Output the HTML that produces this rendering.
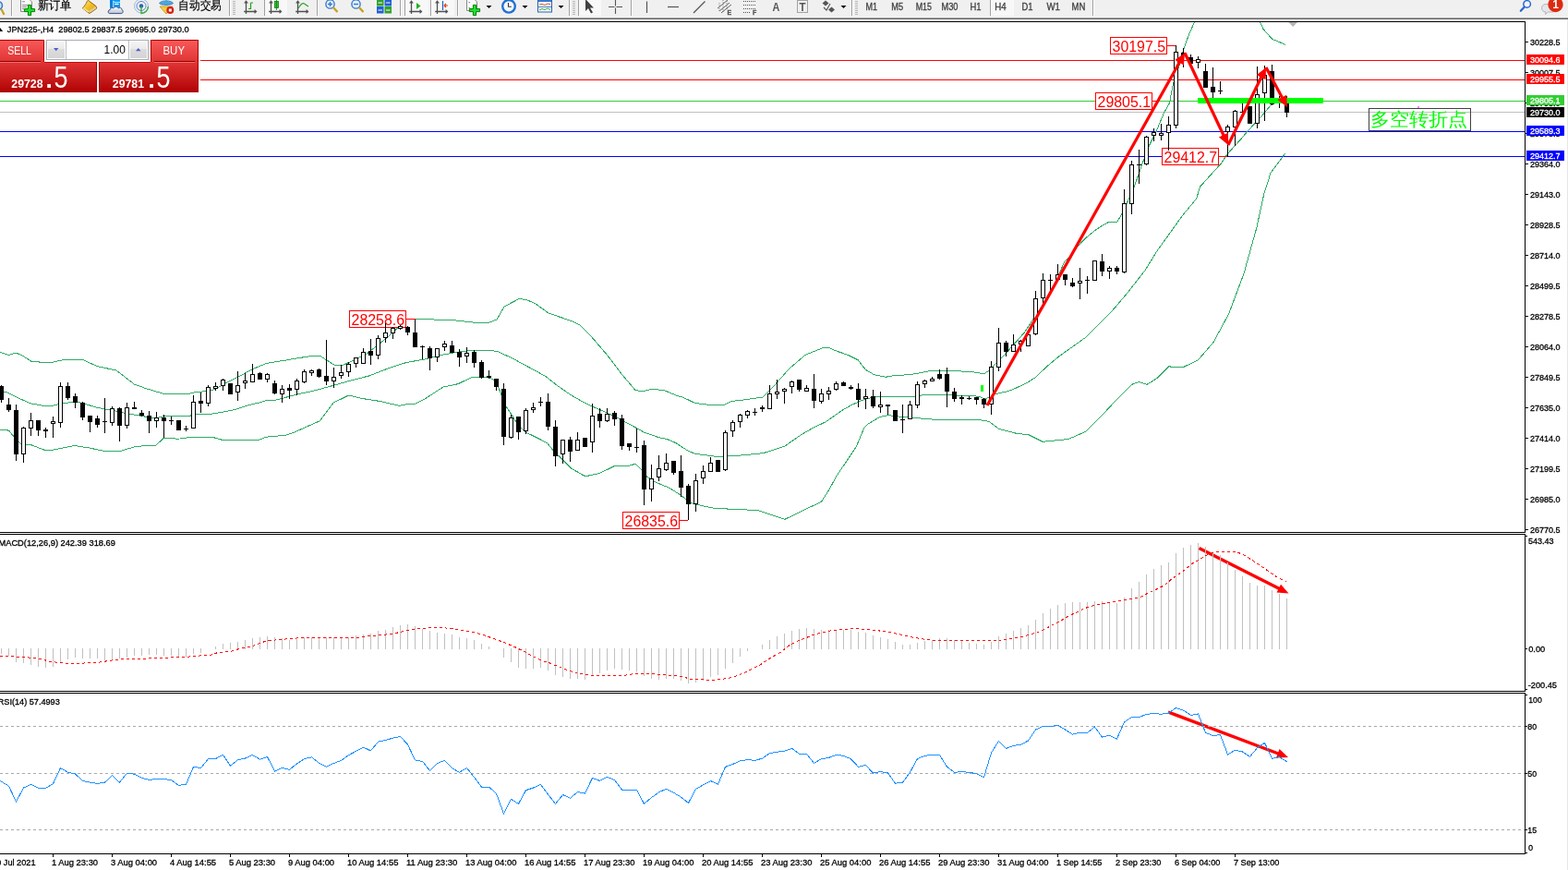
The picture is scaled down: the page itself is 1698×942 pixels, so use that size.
<!DOCTYPE html><html><head><meta charset="utf-8"><title>MT4 JPN225 H4</title><style>html,body{margin:0;padding:0;width:1698px;height:942px;overflow:hidden;background:#fff}svg{position:absolute;left:0;top:0;display:block}text{font-family:"Liberation Sans",Arial,sans-serif}</style></head><body>
<svg width="1698" height="942" viewBox="0 0 1698 942">
<defs><linearGradient id="gSellTop" x1="0" y1="0" x2="0" y2="1"><stop offset="0" stop-color="#f85a5a"/><stop offset="1" stop-color="#e03434"/></linearGradient><linearGradient id="gPrice" x1="0" y1="0" x2="0" y2="1"><stop offset="0" stop-color="#e23636"/><stop offset="1" stop-color="#b00202"/></linearGradient><linearGradient id="gBtn" x1="0" y1="0" x2="0" y2="1"><stop offset="0" stop-color="#f4f4f4"/><stop offset="0.42" stop-color="#ebebeb"/><stop offset="0.45" stop-color="#dcdcdc"/><stop offset="1" stop-color="#d4d4d4"/></linearGradient><linearGradient id="gTbEdge" x1="0" y1="0" x2="0" y2="1"><stop offset="0" stop-color="#d8d8d8"/><stop offset="0.5" stop-color="#a0a0a0"/><stop offset="1" stop-color="#6e6e6e"/></linearGradient></defs>
<rect x="0" y="0" width="1698" height="942" fill="#ffffff"/>
<rect x="0" y="0" width="1698" height="19" fill="#f0f0f0"/>
<rect x="0" y="18" width="1698" height="1" fill="#f5f5f5"/>
<rect x="0" y="19" width="1698" height="1" fill="#a2a2a2"/>
<rect x="0" y="20" width="1698" height="1" fill="#686868"/>
<rect x="1697" y="21" width="1" height="921" fill="#e6e6e6"/>
<g shape-rendering="crispEdges">
<rect x="217" y="65" width="1434" height="1" fill="#ff0000"/>
<rect x="217" y="86" width="1434" height="1" fill="#ff0000"/>
<rect x="0" y="109" width="1651" height="1" fill="#32cd32"/>
<rect x="0" y="121" width="1651" height="1" fill="#c0c0c0"/>
<rect x="0" y="142" width="1651" height="1" fill="#0000ff"/>
<rect x="0" y="169" width="1651" height="1" fill="#0000ff"/>
</g>
<g fill="none" stroke="#2fab66" stroke-width="1" shape-rendering="crispEdges">
<polyline points="0,381.2 9.6,384.5 17.2,382 24.8,385.4 34.4,391.5 44,392.1 57.3,392.1 68.8,389.6 89.8,389.6 105.1,396.5 126.1,401.1 145.3,416 158.6,420.8 177.8,426.5 204,426.5 213,424.2 223,423.9 231.9,421.8 245.3,414.5 257.5,408.4 269.8,401.7 276.5,398.4 288.7,393.4 298.8,391.7 309.9,390 322.2,387.8 335,385.9 346.4,385.2 362,395.2 372,395.2 396.5,383.5 417.7,366.8 430,355.6 440,345.7 462,345.7 494,347 512,349 530,349 538,346 546,332 562,323.6 570,324.4 580,329 594,339 620,348 628,352 640,364 658,385 674,406 688,422.5 696,424 706,421 720,423 732,428 740,430.4 752.7,436.5 768.6,438.4 784.5,438.4 792.5,434.4 806.8,432.8 825.9,430.1 835.4,420.9 854.5,399.4 872,384.3 891,376.7 897.4,376.4 905.4,379.9 918.1,384.3 929.2,389.9 937.2,400.2 946.7,405.8 959.4,408.2 970.6,406.3 984.9,405.8 1000,403.1 1007.6,401.4 1025.5,401.4 1051,402.4 1063.7,404.4 1066,404.5 1070.6,401.4 1077,395 1087.6,384.5 1109.7,359.7 1122.3,340 1131.7,326.6 1144.4,302.2 1152.9,283.1 1159.3,277.8 1166.7,267.2 1175.9,257.6 1186.9,248.6 1194.3,243.8 1200.7,240.4 1209.7,240.4 1214.5,232.1 1227.2,205.5 1236,180 1243.6,159.3 1252.1,142.3 1260.6,121.9 1266.5,111.7 1269.9,93 1275.9,74.4 1282.7,50.6 1287.7,37 1293.7,23.5"/>
<polyline points="1364.2,23.5 1368.2,31.8 1373.5,37.6 1377.7,42.4 1383,44.5 1392.5,48.5"/>
<polyline points="0,424 4,424 8,425 20,431 33,436.8 45,439 58,439 65,437.3 73,436.2 81,434.6 90,436.8 105,441.2 113,442.9 121,444 138,448 145,449 161,451.8 170,452.4 177.3,450.8 204,450.6 213,448.5 227.4,448.5 243,445.8 256.4,443 269.8,438.5 282,435.7 288.7,433.5 298.8,433 309.9,430.2 322.2,426.8 335,424.2 346,421.5 360,417.6 380,412 399.9,406.9 420,399 440,392.5 460,389 480,384 500,380.5 512,379.5 532,379.5 540,381 555.7,388.4 582.5,402.9 591.4,407.9 602.6,416.8 617,426.9 630.4,434.7 640.5,439.7 656,446.4 668,452.1 688.4,463 697.3,468 712.6,473.4 722.8,475.7 731.7,479.5 744.5,487.8 752.1,491.2 770,493.5 776.3,494.5 782.7,494.2 789,493.5 804.4,492.9 826.6,490.6 838,487 849.8,483.1 866.4,471.5 880,463.5 894.5,456.6 911.1,444.9 922,438.5 935.9,432.5 949.2,429.1 990.6,429.1 1002.1,427.5 1010,427.5 1028,427.7 1051,428.6 1060,429.2 1064,431 1068,431.5 1075.9,427.4 1083.9,425.2 1091.8,423.6 1100,420.2 1110.9,415.2 1121.1,408.8 1133.8,396.7 1146.6,386 1159.3,377 1175.9,365.2 1203.5,337.6 1220,318.3 1240,292.7 1253.2,271.4 1268.6,250 1280.8,233 1295.5,215.3 1299.7,202 1322.3,177 1329.4,166.5 1344.3,150 1350.7,142.4 1365.5,126.5 1377.2,112.7 1385.8,110"/>
<polyline points="0,465.3 9.6,466.1 15.3,473.3 22.9,481 34.4,482 47.8,487.1 57.3,487.1 80.3,482.5 95.6,484.8 112.8,488.3 130,488.6 145.3,483.9 160,482.1 169.1,482.1 177.3,474.2 193,475.2 209.5,473.1 229.3,473.1 240.8,476.4 280.4,476.4 288.6,473.1 308.4,471.4 316.7,468.9 346.3,455.8 361.2,436 377.7,428 390.9,431.3 412.3,434.6 432.1,439.3 440,437.9 450,437 460,432 480,419 496,415.7 512,408 528,408 536,412 540,420 548,440 554.6,449.7 559.1,457.5 564.7,464 571.3,469 580.3,473.4 592.5,479.6 599.2,488 604.8,493.5 618.2,506.9 633.8,515.8 649.4,512.5 665,504.7 680.7,504.4 688.4,502.2 693.5,507.5 701.1,516.5 710,522.2 724,527.9 736.4,535.5 748.1,544.6 758.5,547.2 774,550.4 789.6,551.1 805.1,551.7 822,553 828.4,555 849.8,562.4 870,552.5 889.5,543.3 898,530 906,515.2 917,499 927.6,483 935.9,463 939.2,459.7 952.5,451.5 962.4,449.5 969,450.6 985.6,452.3 998.8,453.1 1013.7,454.4 1061.2,454.7 1071,456.3 1082,464.5 1101.4,469.5 1113.8,470.6 1129,478.3 1156.6,475.6 1175.9,467.3 1192.5,450.8 1209,432.8 1225.6,416.3 1233.8,413.5 1242.1,416.3 1253.2,409.4 1265.6,396.9 1280.8,397.8 1297.3,390 1313.9,370.7 1330.4,340.4 1347,296.2 1360.8,246.6 1368.7,210.4 1376.1,187 1392,166"/>
</g>
<rect x="378.5" y="336.5" width="61" height="18" fill="#fff" stroke="#ff0000" stroke-width="1" shape-rendering="crispEdges"/>
<text x="409.3" y="352" font-size="17" fill="#ff0000" textLength="57.5" lengthAdjust="spacingAndGlyphs" text-anchor="middle">28258.6</text>
<path d="M440 345.5H449.5" stroke="#ff0000" stroke-width="1" fill="none" shape-rendering="crispEdges"/>
<rect x="1202.5" y="40.5" width="61" height="18" fill="#fff" stroke="#ff0000" stroke-width="1" shape-rendering="crispEdges"/>
<text x="1233.3" y="56" font-size="17" fill="#ff0000" textLength="57.5" lengthAdjust="spacingAndGlyphs" text-anchor="middle">30197.5</text>
<path d="M1264 49.5H1273" stroke="#ff0000" stroke-width="1" fill="none" shape-rendering="crispEdges"/>
<rect x="1186.5" y="100.5" width="61" height="18" fill="#fff" stroke="#ff0000" stroke-width="1" shape-rendering="crispEdges"/>
<text x="1217.3" y="116" font-size="17" fill="#ff0000" textLength="57.5" lengthAdjust="spacingAndGlyphs" text-anchor="middle">29805.1</text>
<path d="M1248 109.5H1254" stroke="#ff0000" stroke-width="1" fill="none" shape-rendering="crispEdges"/>
<rect x="1258.5" y="160.5" width="61" height="18" fill="#fff" stroke="#ff0000" stroke-width="1" shape-rendering="crispEdges"/>
<text x="1289.3" y="176" font-size="17" fill="#ff0000" textLength="57.5" lengthAdjust="spacingAndGlyphs" text-anchor="middle">29412.7</text>
<path d="M1320 169.5H1329" stroke="#ff0000" stroke-width="1" fill="none" shape-rendering="crispEdges"/>
<rect x="674.5" y="554.5" width="61" height="18" fill="#fff" stroke="#ff0000" stroke-width="1" shape-rendering="crispEdges"/>
<text x="705.3" y="570" font-size="17" fill="#ff0000" textLength="57.5" lengthAdjust="spacingAndGlyphs" text-anchor="middle">26835.6</text>
<path d="M736 563.5H745" stroke="#ff0000" stroke-width="1" fill="none" shape-rendering="crispEdges"/>
<g shape-rendering="crispEdges">
<path d="M1.5 417V436M9.5 431V446M17.5 438V499M25.5 462V501M33.5 447V472M41.5 455V472M49.5 463V474M57.5 451V474M65.5 414V463M73.5 414V433M81.5 426V442M89.5 435V455M97.5 450V468M105.5 450V463M113.5 431V469M121.5 440V461M129.5 441V478M137.5 436V464M145.5 435V443M153.5 444V451M161.5 445V469M169.5 446V463M177.5 449V474M185.5 451V460M193.5 455V466M201.5 461V467M209.5 428V464M217.5 425V447M225.5 417V440M233.5 414V423M241.5 410V423M249.5 415V427M257.5 402V434M265.5 404V421M273.5 394V414M281.5 403V411M289.5 404V414M297.5 412V427M305.5 417V436M313.5 416V432M321.5 410V428M329.5 400V415M337.5 400V407M345.5 399V409M353.5 368V417M361.5 398V420M369.5 395V410M377.5 392V408M385.5 387V398M393.5 377V394M401.5 367V395M409.5 363V389M417.5 350V371M425.5 354V367M433.5 352V357M441.5 353V363M449.5 346V376M457.5 374V389M465.5 375V401M473.5 377V392M481.5 369V380M489.5 369V382M497.5 378V397M505.5 376V393M513.5 379V398M521.5 390V410M529.5 401V410M537.5 410V423M545.5 415V482M553.5 449V475M561.5 451V476M569.5 442V470M577.5 436V447M585.5 430V440M593.5 426V466M601.5 455V505M609.5 476V502M617.5 473V500M625.5 468V488M633.5 474V484M641.5 437V490M649.5 442V463M657.5 442V457M665.5 445V461M673.5 449V487M681.5 480V488M689.5 464V490M697.5 477V547M705.5 503V543M713.5 493V521M721.5 491V510M729.5 499V514M737.5 493V538M745.5 524V563M753.5 513V554M761.5 504V524M769.5 495V511M777.5 498V511M785.5 466V510M793.5 455V473M801.5 448V463M809.5 444V453M817.5 442V450M825.5 439V446M833.5 417V443M841.5 411V432M849.5 420V437M857.5 412V426M865.5 411V424M873.5 417V424M881.5 405V442M889.5 421V437M897.5 419V433M905.5 413V423M913.5 413V418M921.5 417V422M929.5 415V441M937.5 421V443M945.5 422V442M953.5 424V447M961.5 438V449M969.5 444V456M977.5 438V469M985.5 434V454M993.5 413V442M1001.5 411V420M1009.5 408V413M1017.5 400V411M1025.5 398V441M1033.5 420V435M1041.5 428V438M1049.5 429V433M1057.5 430V438M1065.5 431V442M1073.5 391V449M1081.5 355V402M1089.5 369V386M1097.5 362V381M1105.5 368V381M1113.5 362V375M1121.5 315V363M1129.5 296V330M1137.5 297V315M1145.5 286V303M1153.5 297V309M1161.5 301V311M1169.5 290V324M1177.5 299V318M1185.5 282V304M1193.5 275V299M1201.5 288V302M1209.5 288V297M1217.5 205V296M1225.5 174V232M1233.5 162V199M1241.5 147V179M1249.5 139V153M1257.5 134V152M1265.5 126V163M1273.5 49V139M1281.5 52V73M1289.5 59V72M1297.5 61V74M1305.5 69V95M1313.5 73V106M1321.5 88V102M1329.5 135V170M1337.5 119V158M1345.5 112V122M1353.5 115V134M1361.5 72V139M1369.5 71V131M1377.5 70V114M1385.5 104V117M1393.5 104V127" stroke="#000" stroke-width="1" fill="none"/>
<g fill="#fff" stroke="#000" stroke-width="1"><rect x="23.5" y="463.5" width="4" height="28"/><rect x="31.5" y="455.5" width="4" height="8"/><rect x="55.5" y="456.5" width="4" height="2"/><rect x="63.5" y="418.5" width="4" height="39"/><rect x="119.5" y="442.5" width="4" height="15"/><rect x="135.5" y="441.5" width="4" height="19"/><rect x="167.5" y="452.5" width="4" height="3"/><rect x="207.5" y="435.5" width="4" height="28"/><rect x="223.5" y="419.5" width="4" height="17"/><rect x="231.5" y="418.5" width="4" height="2"/><rect x="239.5" y="411.5" width="4" height="6"/><rect x="255.5" y="417.5" width="4" height="7"/><rect x="263.5" y="412.5" width="4" height="2"/><rect x="271.5" y="405.5" width="4" height="8"/><rect x="287.5" y="405.5" width="4" height="5"/><rect x="303.5" y="421.5" width="4" height="5"/><rect x="319.5" y="412.5" width="4" height="9"/><rect x="327.5" y="402.5" width="4" height="11"/><rect x="335.5" y="401.5" width="4" height="2"/><rect x="359.5" y="408.5" width="4" height="4"/><rect x="367.5" y="403.5" width="4" height="3"/><rect x="375.5" y="394.5" width="4" height="8"/><rect x="383.5" y="387.5" width="4" height="6"/><rect x="391.5" y="381.5" width="4" height="12"/><rect x="407.5" y="366.5" width="4" height="18"/><rect x="415.5" y="360.5" width="4" height="5"/><rect x="423.5" y="355.5" width="4" height="5"/><rect x="431.5" y="353.5" width="4" height="2"/><rect x="471.5" y="377.5" width="4" height="9"/><rect x="479.5" y="372.5" width="4" height="3"/><rect x="503.5" y="382.5" width="4" height="3"/><rect x="551.5" y="452.5" width="4" height="21"/><rect x="567.5" y="444.5" width="4" height="22"/><rect x="575.5" y="441.5" width="4" height="2"/><rect x="607.5" y="476.5" width="4" height="15"/><rect x="623.5" y="476.5" width="4" height="11"/><rect x="639.5" y="450.5" width="4" height="28"/><rect x="655.5" y="448.5" width="4" height="7"/><rect x="703.5" y="518.5" width="4" height="11"/><rect x="711.5" y="507.5" width="4" height="9"/><rect x="719.5" y="501.5" width="4" height="7"/><rect x="751.5" y="520.5" width="4" height="25"/><rect x="759.5" y="510.5" width="4" height="7"/><rect x="767.5" y="501.5" width="4" height="9"/><rect x="783.5" y="468.5" width="4" height="40"/><rect x="791.5" y="457.5" width="4" height="9"/><rect x="799.5" y="449.5" width="4" height="7"/><rect x="807.5" y="445.5" width="4" height="4"/><rect x="831.5" y="426.5" width="4" height="16"/><rect x="839.5" y="424.5" width="4" height="2"/><rect x="847.5" y="421.5" width="4" height="2"/><rect x="855.5" y="413.5" width="4" height="5"/><rect x="871.5" y="420.5" width="4" height="3"/><rect x="887.5" y="426.5" width="4" height="8"/><rect x="895.5" y="423.5" width="4" height="3"/><rect x="903.5" y="415.5" width="4" height="6"/><rect x="935.5" y="429.5" width="4" height="2"/><rect x="951.5" y="438.5" width="4" height="2"/><rect x="983.5" y="438.5" width="4" height="15"/><rect x="991.5" y="416.5" width="4" height="22"/><rect x="999.5" y="412.5" width="4" height="3"/><rect x="1007.5" y="410.5" width="4" height="2"/><rect x="1071.5" y="397.5" width="4" height="40"/><rect x="1079.5" y="371.5" width="4" height="26"/><rect x="1095.5" y="373.5" width="4" height="7"/><rect x="1103.5" y="369.5" width="4" height="3"/><rect x="1111.5" y="362.5" width="4" height="12"/><rect x="1119.5" y="323.5" width="4" height="38"/><rect x="1127.5" y="303.5" width="4" height="19"/><rect x="1143.5" y="297.5" width="4" height="5"/><rect x="1167.5" y="304.5" width="4" height="2"/><rect x="1183.5" y="282.5" width="4" height="21"/><rect x="1199.5" y="290.5" width="4" height="3"/><rect x="1215.5" y="220.5" width="4" height="74"/><rect x="1223.5" y="178.5" width="4" height="42"/><rect x="1239.5" y="148.5" width="4" height="29"/><rect x="1247.5" y="143.5" width="4" height="3"/><rect x="1255.5" y="144.5" width="4" height="2"/><rect x="1263.5" y="135.5" width="4" height="8"/><rect x="1271.5" y="56.5" width="4" height="79"/><rect x="1295.5" y="64.5" width="4" height="3"/><rect x="1327.5" y="137.5" width="4" height="5"/><rect x="1335.5" y="120.5" width="4" height="17"/><rect x="1359.5" y="102.5" width="4" height="31"/><rect x="1367.5" y="81.5" width="4" height="19"/></g>
<g fill="#000"><rect x="-1" y="418" width="5" height="15"/><rect x="7" y="438" width="5" height="6"/><rect x="15" y="444" width="5" height="48"/><rect x="39" y="455" width="5" height="11"/><rect x="47" y="465" width="5" height="2"/><rect x="71" y="418" width="5" height="13"/><rect x="79" y="429" width="5" height="7"/><rect x="87" y="436" width="5" height="16"/><rect x="95" y="450" width="5" height="7"/><rect x="103" y="453" width="5" height="7"/><rect x="111" y="456" width="5" height="1"/><rect x="127" y="442" width="5" height="19"/><rect x="143" y="441" width="5" height="2"/><rect x="151" y="447" width="5" height="3"/><rect x="159" y="450" width="5" height="6"/><rect x="175" y="452" width="5" height="4"/><rect x="183" y="455" width="5" height="1"/><rect x="191" y="455" width="5" height="11"/><rect x="199" y="464" width="5" height="1"/><rect x="215" y="434" width="5" height="3"/><rect x="247" y="415" width="5" height="12"/><rect x="279" y="404" width="5" height="7"/><rect x="295" y="415" width="5" height="11"/><rect x="311" y="420" width="5" height="3"/><rect x="343" y="400" width="5" height="8"/><rect x="351" y="407" width="5" height="6"/><rect x="399" y="380" width="5" height="5"/><rect x="439" y="354" width="5" height="6"/><rect x="447" y="360" width="5" height="16"/><rect x="455" y="375" width="5" height="1"/><rect x="463" y="377" width="5" height="11"/><rect x="487" y="374" width="5" height="8"/><rect x="495" y="381" width="5" height="6"/><rect x="511" y="381" width="5" height="12"/><rect x="519" y="392" width="5" height="17"/><rect x="527" y="407" width="5" height="2"/><rect x="535" y="410" width="5" height="9"/><rect x="543" y="421" width="5" height="52"/><rect x="559" y="451" width="5" height="17"/><rect x="583" y="435" width="5" height="1"/><rect x="591" y="435" width="5" height="27"/><rect x="599" y="462" width="5" height="32"/><rect x="615" y="476" width="5" height="13"/><rect x="631" y="474" width="5" height="10"/><rect x="647" y="448" width="5" height="8"/><rect x="663" y="447" width="5" height="7"/><rect x="671" y="453" width="5" height="30"/><rect x="679" y="480" width="5" height="4"/><rect x="687" y="484" width="5" height="1"/><rect x="695" y="482" width="5" height="48"/><rect x="727" y="499" width="5" height="13"/><rect x="735" y="510" width="5" height="18"/><rect x="743" y="526" width="5" height="20"/><rect x="775" y="498" width="5" height="13"/><rect x="815" y="446" width="5" height="1"/><rect x="823" y="441" width="5" height="2"/><rect x="863" y="411" width="5" height="11"/><rect x="879" y="421" width="5" height="13"/><rect x="911" y="414" width="5" height="4"/><rect x="919" y="419" width="5" height="2"/><rect x="927" y="421" width="5" height="12"/><rect x="943" y="429" width="5" height="11"/><rect x="959" y="438" width="5" height="2"/><rect x="967" y="444" width="5" height="12"/><rect x="975" y="454" width="5" height="1"/><rect x="1015" y="405" width="5" height="5"/><rect x="1023" y="405" width="5" height="19"/><rect x="1031" y="424" width="5" height="8"/><rect x="1039" y="430" width="5" height="2"/><rect x="1047" y="431" width="5" height="1"/><rect x="1055" y="430" width="5" height="3"/><rect x="1063" y="432" width="5" height="6"/><rect x="1087" y="371" width="5" height="10"/><rect x="1135" y="303" width="5" height="1"/><rect x="1151" y="297" width="5" height="6"/><rect x="1159" y="306" width="5" height="4"/><rect x="1175" y="303" width="5" height="1"/><rect x="1191" y="283" width="5" height="11"/><rect x="1207" y="290" width="5" height="4"/><rect x="1231" y="178" width="5" height="1"/><rect x="1279" y="57" width="5" height="3"/><rect x="1287" y="62" width="5" height="7"/><rect x="1303" y="77" width="5" height="18"/><rect x="1311" y="94" width="5" height="6"/><rect x="1319" y="98" width="5" height="1"/><rect x="1343" y="121" width="5" height="1"/><rect x="1351" y="115" width="5" height="19"/><rect x="1375" y="77" width="5" height="36"/><rect x="1383" y="106" width="5" height="6"/><rect x="1391" y="112" width="5" height="10"/></g>
</g>
<rect x="1062" y="417" width="3" height="7" fill="#00ff00" shape-rendering="crispEdges"/>
<rect x="1297" y="106" width="136" height="6" fill="#00ff00" shape-rendering="crispEdges"/>
<line x1="1069" y1="439" x2="1278.11" y2="66.02" stroke="#ff0000" stroke-width="3.2" stroke-linecap="butt"/>
<polygon points="1283,57.3 1281.93,70.46 1272.33,65.08" fill="#ff0000"/>
<line x1="1283" y1="57.3" x2="1325.74" y2="147.95" stroke="#ff0000" stroke-width="3.2" stroke-linecap="butt"/>
<polygon points="1330,157 1319.91,148.49 1329.86,143.8" fill="#ff0000"/>
<line x1="1330" y1="157" x2="1366.61" y2="81.99" stroke="#ff0000" stroke-width="3.2" stroke-linecap="butt"/>
<polygon points="1371,73 1370.68,86.2 1360.79,81.37" fill="#ff0000"/>
<line x1="1371" y1="73" x2="1389.28" y2="107.18" stroke="#ff0000" stroke-width="3.2" stroke-linecap="butt"/>
<polygon points="1394,116 1383.49,108.01 1393.19,102.82" fill="#ff0000"/>
<line x1="1298.5" y1="593.5" x2="1386.57" y2="637.99" stroke="#ff0000" stroke-width="3.4" stroke-linecap="butt"/>
<polygon points="1395.5,642.5 1382.53,641.55 1387.04,632.63" fill="#ff0000"/>
<line x1="1265" y1="771" x2="1385.64" y2="816.47" stroke="#ff0000" stroke-width="3.4" stroke-linecap="butt"/>
<polygon points="1395,820 1382.01,820.45 1385.53,811.09" fill="#ff0000"/>
<rect x="1482.5" y="117.5" width="110" height="24" fill="none" stroke="#404040" stroke-width="1" shape-rendering="crispEdges"/>
<text x="1483.5" y="136" font-size="19.5" fill="#00ff00" textLength="106" lengthAdjust="spacingAndGlyphs" font-family='"Liberation Sans", "Noto Sans CJK SC", "WenQuanYi Zen Hei", sans-serif' font-weight="300">多空转折点</text>
<rect x="1535" y="115" width="2" height="2" fill="#ff80ff"/>
<polygon points="1395.5,24 1405,24 1400.2,29" fill="#b4b4b4"/>
<g shape-rendering="crispEdges">
<path d="M1.5 702V708M9.5 702V710M17.5 702V717M25.5 702V718M33.5 702V720M41.5 702V722M49.5 702V723M57.5 702V722M65.5 702V717M73.5 702V714M81.5 702V712M89.5 702V713M97.5 702V713M105.5 702V713M113.5 702V715M121.5 702V714M129.5 702V713M137.5 702V712M145.5 702V710M153.5 702V710M161.5 702V709M169.5 702V709M177.5 702V710M185.5 702V710M193.5 702V711M201.5 702V712M209.5 702V708M217.5 702V707M233.5 700V703M241.5 697V703M249.5 696V703M257.5 695V703M265.5 693V703M273.5 691V703M281.5 690V703M289.5 689V703M297.5 690V703M305.5 691V703M313.5 693V703M321.5 692V703M329.5 690V703M337.5 690V703M345.5 690V703M353.5 690V703M361.5 690V703M369.5 691V703M377.5 690V703M385.5 688V703M393.5 687V703M401.5 686V703M409.5 683V703M417.5 682V703M425.5 679V703M433.5 677V703M441.5 676V703M449.5 678V703M457.5 681V703M465.5 683V703M473.5 685V703M481.5 686V703M489.5 687V703M497.5 690V703M505.5 691V703M513.5 693V703M521.5 697V703M529.5 700V703M545.5 702V712M553.5 702V717M561.5 702V723M569.5 702V724M577.5 702V724M585.5 702V723M593.5 702V726M601.5 702V731M609.5 702V733M617.5 702V735M625.5 702V735M633.5 702V736M641.5 702V732M649.5 702V729M657.5 702V726M665.5 702V724M673.5 702V725M681.5 702V726M689.5 702V727M697.5 702V732M705.5 702V735M713.5 702V736M721.5 702V735M729.5 702V735M737.5 702V737M745.5 702V740M753.5 702V739M761.5 702V737M769.5 702V733M777.5 702V731M785.5 702V724M793.5 702V718M801.5 702V711M809.5 702V705M825.5 698V703M833.5 693V703M841.5 689V703M849.5 686V703M857.5 683V703M865.5 681V703M873.5 680V703M881.5 681V703M889.5 682V703M897.5 682V703M905.5 682V703M913.5 682V703M921.5 682V703M929.5 684V703M937.5 685V703M945.5 688V703M953.5 690V703M961.5 692V703M969.5 695V703M977.5 698V703M985.5 698V703M993.5 696V703M1001.5 694V703M1009.5 693V703M1017.5 691V703M1025.5 691V703M1033.5 693V703M1041.5 694V703M1049.5 696V703M1057.5 697V703M1065.5 698V703M1073.5 695V703M1081.5 689V703M1089.5 686V703M1097.5 683V703M1105.5 680V703M1113.5 677V703M1121.5 671V703M1129.5 664V703M1137.5 659V703M1145.5 655V703M1153.5 653V703M1161.5 652V703M1169.5 652V703M1177.5 652V703M1185.5 651V703M1193.5 651V703M1201.5 652V703M1209.5 653V703M1217.5 647V703M1225.5 637V703M1233.5 630V703M1241.5 622V703M1249.5 616V703M1257.5 612V703M1265.5 609V703M1273.5 599V703M1281.5 593V703M1289.5 590V703M1297.5 588V703M1305.5 592V703M1313.5 597V703M1321.5 601V703M1329.5 609V703M1337.5 617V703M1345.5 624V703M1353.5 631V703M1361.5 634V703M1369.5 634V703M1377.5 639V703M1385.5 643V703M1393.5 648V703" stroke="#c0c0c0" stroke-width="1" fill="none"/>
</g>
<polyline points="0,711 11,710.2 18.6,711.5 27.9,711.5 33.4,712.5 42.7,713.4 48.3,714.7 55.7,716.6 70.6,718 83.6,718.4 96.6,717.7 107.7,717.1 118.9,715.3 133.8,713.4 156,713.4 163.5,712.5 178.3,712.5 185.8,711.5 202.5,711.5 208,710.6 228.5,709.1 235.9,706.5 250.8,705 260,702.3 275,699.1 286,694.8 293.5,693.4 307.7,692.1 325.3,690.7 385.4,690.4 396,689.1 413.7,687.7 427.8,685.6 438.4,683.3 445.5,681.5 457.8,680.3 473.7,679.2 489.6,680.6 502,682.8 514.4,685.1 523.2,687.3 533.8,691.2 546.2,695.7 558.6,701 569.2,706.3 580,712.1 587,715.6 594,717.4 601.2,720.4 608.3,723 615.3,726.2 624.2,728.3 633,730.1 641.8,731.5 675.4,731.5 686,729.6 717.8,730.1 726.6,731.5 739,732.4 746,734.9 756.7,735.9 774.3,736.3 788.5,734.5 799.1,731.5 809.7,726.6 823.8,719.5 834.4,712.4 845,706.3 855.6,698.3 866.2,693 877,689.1 882.4,686.8 887.7,685.6 894.7,684.2 901.8,682.4 912.4,681.5 923,680.6 940.7,681.5 954.8,683.3 965.4,685.1 976,687.3 986.6,689.8 1000.7,692.1 1011.3,693.4 1082,693.4 1092.6,691.6 1106.7,689.8 1113.8,687.3 1122.7,685.1 1131.5,681.5 1140.3,676.2 1149.2,671.8 1158,666.5 1162.7,664.5 1168.8,661.6 1177.7,657.4 1186.5,655.1 1198.9,652.8 1211.2,651 1221.8,649.3 1234.2,646.8 1243,642.2 1251.9,638.3 1260.7,633.9 1269.5,626.3 1280.1,619.2 1290.7,610.4 1299.6,605.6 1306.6,601.2 1315.5,597.7 1329.6,597.3 1340.2,598 1347.3,601.2 1356.1,606.5 1366.7,613.6 1375.5,619.8 1384.4,625.9 1393.2,629.5" fill="none" stroke="#ff0000" stroke-width="1" stroke-dasharray="3 3" shape-rendering="crispEdges"/>
<g shape-rendering="crispEdges" stroke="#a9a9a9" stroke-width="1" stroke-dasharray="3 3">
<path d="M0 786.5H1651"/>
<path d="M0 837.5H1651"/>
<path d="M0 898.5H1651"/>
</g>
<polyline points="-6.5,843.5 1.5,846.3 9.5,851.1 17.5,868 25.5,853 33.5,849.3 41.5,853.4 49.5,853.4 57.5,848.6 65.5,831.6 73.5,836.2 81.5,838 89.5,845.4 97.5,847.2 105.5,848.4 113.5,847.2 121.5,839.6 129.5,847.2 137.5,837.1 145.5,838.3 153.5,842.2 161.5,844.5 169.5,843.3 177.5,843.6 185.5,844.5 193.5,850.4 201.5,849.3 209.5,830.4 217.5,831.6 225.5,821.6 233.5,821.6 241.5,817.1 249.5,829.2 257.5,822.8 265.5,821 273.5,817.5 281.5,822.1 289.5,819.4 297.5,835.2 305.5,831.3 313.5,833.3 321.5,826.9 329.5,821.6 337.5,819.8 345.5,826.2 353.5,830.1 361.5,826.5 369.5,823.4 377.5,817.7 385.5,813.3 393.5,809.2 401.5,812.9 409.5,803.2 417.5,801.4 425.5,799.2 433.5,797.4 441.5,806.2 449.5,823 457.5,824.4 465.5,834.5 473.5,826.5 481.5,823.4 489.5,831.8 497.5,836.3 505.5,831.5 513.5,841.6 521.5,852.2 529.5,852.2 537.5,859.2 545.5,881.3 553.5,865.4 561.5,870.4 569.5,855.7 577.5,853 585.5,849.5 593.5,860.1 601.5,870.4 609.5,860.5 617.5,864.2 625.5,857.5 633.5,859.2 641.5,842.4 649.5,845.4 657.5,841.2 665.5,844.6 673.5,855.3 681.5,855.3 689.5,855.3 697.5,870.4 705.5,863.6 713.5,857.8 721.5,854.3 729.5,858.3 737.5,863.1 745.5,869.5 753.5,854.3 761.5,849.9 769.5,845.6 777.5,849.2 785.5,830.4 793.5,827.4 801.5,823.9 809.5,822.5 817.5,823.4 825.5,821.2 833.5,815.6 841.5,814.2 849.5,813.3 857.5,810.3 865.5,816.3 873.5,816.3 881.5,826.3 889.5,821.8 897.5,820.4 905.5,817.4 913.5,818.3 921.5,821.8 929.5,830.3 937.5,828.4 945.5,837.2 953.5,835.6 961.5,836.9 969.5,848.3 977.5,847.1 985.5,836.3 993.5,821.5 1001.5,818.3 1009.5,817.4 1017.5,817.4 1025.5,830.3 1033.5,836.3 1041.5,835.6 1049.5,836.3 1057.5,837.7 1065.5,841.8 1073.5,815.1 1081.5,802.4 1089.5,810.4 1097.5,807.4 1105.5,806.3 1113.5,802 1121.5,790 1129.5,786.5 1137.5,786.5 1145.5,785.3 1153.5,790 1161.5,795.1 1169.5,793.3 1177.5,793.3 1185.5,787.1 1193.5,798.1 1201.5,796.3 1209.5,800 1217.5,781.8 1225.5,776.5 1233.5,776.5 1241.5,773.5 1249.5,772.4 1257.5,773.3 1265.5,772.1 1273.5,766.4 1281.5,769.1 1289.5,774.4 1297.5,773 1305.5,793.3 1313.5,796.5 1321.5,795.6 1329.5,817.1 1337.5,812.2 1345.5,814 1353.5,819.3 1361.5,809.7 1369.5,804.4 1377.5,821.2 1385.5,819.8 1393.5,824.6" fill="none" stroke="#1e90ff" stroke-width="1" shape-rendering="crispEdges"/>
<g shape-rendering="crispEdges" fill="#000">
<rect x="0" y="23" width="1652" height="1" fill="#000"/>
<rect x="1651" y="23" width="1" height="554" fill="#000"/>
<rect x="0" y="576" width="1652" height="1" fill="#000"/>
<rect x="0" y="578" width="1652" height="1" fill="#000"/>
<rect x="1651" y="578" width="1" height="171" fill="#000"/>
<rect x="0" y="748" width="1652" height="1" fill="#000"/>
<rect x="0" y="750" width="1652" height="1" fill="#000"/>
<rect x="1651" y="750" width="1" height="175" fill="#000"/>
<rect x="0" y="924" width="1652" height="1" fill="#000"/>
</g>
<g shape-rendering="crispEdges">
<rect x="1652" y="45" width="3" height="1" fill="#000"/>
<rect x="1652" y="78" width="3" height="1" fill="#000"/>
<rect x="1652" y="111" width="3" height="1" fill="#000"/>
<rect x="1652" y="144" width="3" height="1" fill="#000"/>
<rect x="1652" y="177" width="3" height="1" fill="#000"/>
<rect x="1652" y="210" width="3" height="1" fill="#000"/>
<rect x="1652" y="243" width="3" height="1" fill="#000"/>
<rect x="1652" y="276" width="3" height="1" fill="#000"/>
<rect x="1652" y="309" width="3" height="1" fill="#000"/>
<rect x="1652" y="342" width="3" height="1" fill="#000"/>
<rect x="1652" y="375" width="3" height="1" fill="#000"/>
<rect x="1652" y="408" width="3" height="1" fill="#000"/>
<rect x="1652" y="441" width="3" height="1" fill="#000"/>
<rect x="1652" y="474" width="3" height="1" fill="#000"/>
<rect x="1652" y="507" width="3" height="1" fill="#000"/>
<rect x="1652" y="540" width="3" height="1" fill="#000"/>
<rect x="1652" y="573" width="3" height="1" fill="#000"/>
</g>
<text x="1657" y="49" font-size="9.2" fill="#000" textLength="32.6" lengthAdjust="spacingAndGlyphs" stroke="#000" stroke-width="0.3">30228.5</text>
<text x="1657" y="82" font-size="9.2" fill="#000" textLength="32.6" lengthAdjust="spacingAndGlyphs" stroke="#000" stroke-width="0.3">30007.5</text>
<text x="1657" y="115" font-size="9.2" fill="#000" textLength="32.6" lengthAdjust="spacingAndGlyphs" stroke="#000" stroke-width="0.3">29793.0</text>
<text x="1657" y="148" font-size="9.2" fill="#000" textLength="32.6" lengthAdjust="spacingAndGlyphs" stroke="#000" stroke-width="0.3">29578.5</text>
<text x="1657" y="181" font-size="9.2" fill="#000" textLength="32.6" lengthAdjust="spacingAndGlyphs" stroke="#000" stroke-width="0.3">29364.0</text>
<text x="1657" y="214" font-size="9.2" fill="#000" textLength="32.6" lengthAdjust="spacingAndGlyphs" stroke="#000" stroke-width="0.3">29143.0</text>
<text x="1657" y="247" font-size="9.2" fill="#000" textLength="32.6" lengthAdjust="spacingAndGlyphs" stroke="#000" stroke-width="0.3">28928.5</text>
<text x="1657" y="280" font-size="9.2" fill="#000" textLength="32.6" lengthAdjust="spacingAndGlyphs" stroke="#000" stroke-width="0.3">28714.0</text>
<text x="1657" y="313" font-size="9.2" fill="#000" textLength="32.6" lengthAdjust="spacingAndGlyphs" stroke="#000" stroke-width="0.3">28499.5</text>
<text x="1657" y="346" font-size="9.2" fill="#000" textLength="32.6" lengthAdjust="spacingAndGlyphs" stroke="#000" stroke-width="0.3">28278.5</text>
<text x="1657" y="379" font-size="9.2" fill="#000" textLength="32.6" lengthAdjust="spacingAndGlyphs" stroke="#000" stroke-width="0.3">28064.0</text>
<text x="1657" y="412" font-size="9.2" fill="#000" textLength="32.6" lengthAdjust="spacingAndGlyphs" stroke="#000" stroke-width="0.3">27849.5</text>
<text x="1657" y="445" font-size="9.2" fill="#000" textLength="32.6" lengthAdjust="spacingAndGlyphs" stroke="#000" stroke-width="0.3">27635.0</text>
<text x="1657" y="478" font-size="9.2" fill="#000" textLength="32.6" lengthAdjust="spacingAndGlyphs" stroke="#000" stroke-width="0.3">27414.0</text>
<text x="1657" y="511" font-size="9.2" fill="#000" textLength="32.6" lengthAdjust="spacingAndGlyphs" stroke="#000" stroke-width="0.3">27199.5</text>
<text x="1657" y="544" font-size="9.2" fill="#000" textLength="32.6" lengthAdjust="spacingAndGlyphs" stroke="#000" stroke-width="0.3">26985.0</text>
<text x="1657" y="577" font-size="9.2" fill="#000" textLength="32.6" lengthAdjust="spacingAndGlyphs" stroke="#000" stroke-width="0.3">26770.5</text>
<rect x="1653" y="59" width="41" height="11" fill="#ff0000" shape-rendering="crispEdges"/>
<text x="1657" y="68" font-size="9.2" fill="#fff" textLength="32.6" lengthAdjust="spacingAndGlyphs" stroke="#fff" stroke-width="0.3">30094.6</text>
<rect x="1653" y="80" width="41" height="11" fill="#ff0000" shape-rendering="crispEdges"/>
<text x="1657" y="89" font-size="9.2" fill="#fff" textLength="32.6" lengthAdjust="spacingAndGlyphs" stroke="#fff" stroke-width="0.3">29955.5</text>
<rect x="1653" y="103" width="41" height="11" fill="#32cd32" shape-rendering="crispEdges"/>
<text x="1657" y="112" font-size="9.2" fill="#fff" textLength="32.6" lengthAdjust="spacingAndGlyphs" stroke="#fff" stroke-width="0.3">29805.1</text>
<rect x="1653" y="116" width="41" height="11" fill="#000000" shape-rendering="crispEdges"/>
<text x="1657" y="125" font-size="9.2" fill="#fff" textLength="32.6" lengthAdjust="spacingAndGlyphs" stroke="#fff" stroke-width="0.3">29730.0</text>
<rect x="1653" y="136" width="41" height="11" fill="#0000ff" shape-rendering="crispEdges"/>
<text x="1657" y="145" font-size="9.2" fill="#fff" textLength="32.6" lengthAdjust="spacingAndGlyphs" stroke="#fff" stroke-width="0.3">29589.3</text>
<rect x="1653" y="163" width="41" height="11" fill="#0000ff" shape-rendering="crispEdges"/>
<text x="1657" y="172" font-size="9.2" fill="#fff" textLength="32.6" lengthAdjust="spacingAndGlyphs" stroke="#fff" stroke-width="0.3">29412.7</text>
<g shape-rendering="crispEdges">
<rect x="1652" y="580" width="2" height="1" fill="#000"/>
<rect x="1652" y="702" width="2" height="1" fill="#000"/>
<rect x="1652" y="746" width="2" height="1" fill="#000"/>
<rect x="1652" y="752" width="2" height="1" fill="#000"/>
<rect x="1652" y="786" width="2" height="1" fill="#000"/>
<rect x="1652" y="837" width="2" height="1" fill="#000"/>
<rect x="1652" y="898" width="2" height="1" fill="#000"/>
<rect x="1652" y="923" width="2" height="1" fill="#000"/>
</g>
<text x="1655" y="589" font-size="9.2" fill="#000" textLength="27.5" lengthAdjust="spacingAndGlyphs" stroke="#000" stroke-width="0.3">543.43</text>
<text x="1655.2" y="706" font-size="9.2" fill="#000" textLength="18" lengthAdjust="spacingAndGlyphs" stroke="#000" stroke-width="0.3">0.00</text>
<text x="1654.8" y="745.2" font-size="9.2" fill="#000" textLength="31.2" lengthAdjust="spacingAndGlyphs" stroke="#000" stroke-width="0.3">-200.45</text>
<text x="1655.3" y="761.4" font-size="9.2" fill="#000" textLength="14.4" lengthAdjust="spacingAndGlyphs" stroke="#000" stroke-width="0.3">100</text>
<text x="1654.3" y="790.4" font-size="9.2" fill="#000" textLength="9.8" lengthAdjust="spacingAndGlyphs" stroke="#000" stroke-width="0.3">80</text>
<text x="1654.3" y="841.2" font-size="9.2" fill="#000" textLength="9.8" lengthAdjust="spacingAndGlyphs" stroke="#000" stroke-width="0.3">50</text>
<text x="1654.3" y="902.2" font-size="9.2" fill="#000" textLength="9.8" lengthAdjust="spacingAndGlyphs" stroke="#000" stroke-width="0.3">15</text>
<text x="1654.9" y="920.9" font-size="9.2" fill="#000" textLength="5.1" lengthAdjust="spacingAndGlyphs" stroke="#000" stroke-width="0.3">0</text>
<g shape-rendering="crispEdges">
<rect x="57" y="925" width="1" height="3" fill="#000"/>
<rect x="121" y="925" width="1" height="3" fill="#000"/>
<rect x="185" y="925" width="1" height="3" fill="#000"/>
<rect x="249" y="925" width="1" height="3" fill="#000"/>
<rect x="313" y="925" width="1" height="3" fill="#000"/>
<rect x="377" y="925" width="1" height="3" fill="#000"/>
<rect x="441" y="925" width="1" height="3" fill="#000"/>
<rect x="505" y="925" width="1" height="3" fill="#000"/>
<rect x="569" y="925" width="1" height="3" fill="#000"/>
<rect x="633" y="925" width="1" height="3" fill="#000"/>
<rect x="697" y="925" width="1" height="3" fill="#000"/>
<rect x="761" y="925" width="1" height="3" fill="#000"/>
<rect x="825" y="925" width="1" height="3" fill="#000"/>
<rect x="889" y="925" width="1" height="3" fill="#000"/>
<rect x="953" y="925" width="1" height="3" fill="#000"/>
<rect x="1017" y="925" width="1" height="3" fill="#000"/>
<rect x="1081" y="925" width="1" height="3" fill="#000"/>
<rect x="1145" y="925" width="1" height="3" fill="#000"/>
<rect x="1209" y="925" width="1" height="3" fill="#000"/>
<rect x="1273" y="925" width="1" height="3" fill="#000"/>
<rect x="1337" y="925" width="1" height="3" fill="#000"/>
</g>
<text x="38.5" y="936.9" font-size="9.7" fill="#000" textLength="47.4" lengthAdjust="spacingAndGlyphs" text-anchor="end" stroke="#000" stroke-width="0.3">29 Jul 2021</text>
<text x="55.9" y="936.9" font-size="9.7" fill="#000" textLength="50.2" lengthAdjust="spacingAndGlyphs" stroke="#000" stroke-width="0.3">1 Aug 23:30</text>
<text x="119.9" y="936.9" font-size="9.7" fill="#000" textLength="50.2" lengthAdjust="spacingAndGlyphs" stroke="#000" stroke-width="0.3">3 Aug 04:00</text>
<text x="183.9" y="936.9" font-size="9.7" fill="#000" textLength="50.2" lengthAdjust="spacingAndGlyphs" stroke="#000" stroke-width="0.3">4 Aug 14:55</text>
<text x="247.9" y="936.9" font-size="9.7" fill="#000" textLength="50.2" lengthAdjust="spacingAndGlyphs" stroke="#000" stroke-width="0.3">5 Aug 23:30</text>
<text x="311.9" y="936.9" font-size="9.7" fill="#000" textLength="50.2" lengthAdjust="spacingAndGlyphs" stroke="#000" stroke-width="0.3">9 Aug 04:00</text>
<text x="375.9" y="936.9" font-size="9.7" fill="#000" textLength="55.5" lengthAdjust="spacingAndGlyphs" stroke="#000" stroke-width="0.3">10 Aug 14:55</text>
<text x="439.9" y="936.9" font-size="9.7" fill="#000" textLength="55.5" lengthAdjust="spacingAndGlyphs" stroke="#000" stroke-width="0.3">11 Aug 23:30</text>
<text x="503.9" y="936.9" font-size="9.7" fill="#000" textLength="55.5" lengthAdjust="spacingAndGlyphs" stroke="#000" stroke-width="0.3">13 Aug 04:00</text>
<text x="567.9" y="936.9" font-size="9.7" fill="#000" textLength="55.5" lengthAdjust="spacingAndGlyphs" stroke="#000" stroke-width="0.3">16 Aug 14:55</text>
<text x="631.9" y="936.9" font-size="9.7" fill="#000" textLength="55.5" lengthAdjust="spacingAndGlyphs" stroke="#000" stroke-width="0.3">17 Aug 23:30</text>
<text x="695.9" y="936.9" font-size="9.7" fill="#000" textLength="55.5" lengthAdjust="spacingAndGlyphs" stroke="#000" stroke-width="0.3">19 Aug 04:00</text>
<text x="759.9" y="936.9" font-size="9.7" fill="#000" textLength="55.5" lengthAdjust="spacingAndGlyphs" stroke="#000" stroke-width="0.3">20 Aug 14:55</text>
<text x="823.9" y="936.9" font-size="9.7" fill="#000" textLength="55.5" lengthAdjust="spacingAndGlyphs" stroke="#000" stroke-width="0.3">23 Aug 23:30</text>
<text x="887.9" y="936.9" font-size="9.7" fill="#000" textLength="55.5" lengthAdjust="spacingAndGlyphs" stroke="#000" stroke-width="0.3">25 Aug 04:00</text>
<text x="951.9" y="936.9" font-size="9.7" fill="#000" textLength="55.5" lengthAdjust="spacingAndGlyphs" stroke="#000" stroke-width="0.3">26 Aug 14:55</text>
<text x="1015.9" y="936.9" font-size="9.7" fill="#000" textLength="55.5" lengthAdjust="spacingAndGlyphs" stroke="#000" stroke-width="0.3">29 Aug 23:30</text>
<text x="1079.9" y="936.9" font-size="9.7" fill="#000" textLength="55.5" lengthAdjust="spacingAndGlyphs" stroke="#000" stroke-width="0.3">31 Aug 04:00</text>
<text x="1143.9" y="936.9" font-size="9.7" fill="#000" textLength="49.5" lengthAdjust="spacingAndGlyphs" stroke="#000" stroke-width="0.3">1 Sep 14:55</text>
<text x="1207.9" y="936.9" font-size="9.7" fill="#000" textLength="49.5" lengthAdjust="spacingAndGlyphs" stroke="#000" stroke-width="0.3">2 Sep 23:30</text>
<text x="1271.9" y="936.9" font-size="9.7" fill="#000" textLength="49.5" lengthAdjust="spacingAndGlyphs" stroke="#000" stroke-width="0.3">6 Sep 04:00</text>
<text x="1335.9" y="936.9" font-size="9.7" fill="#000" textLength="49.5" lengthAdjust="spacingAndGlyphs" stroke="#000" stroke-width="0.3">7 Sep 13:00</text>
<text x="7.8" y="34.7" font-size="9.5" fill="#000" textLength="196.9" lengthAdjust="spacingAndGlyphs" stroke="#000" stroke-width="0.3">JPN225-,H4&#160;&#160;29802.5 29837.5 29695.0 29730.0</text>
<polygon points="0,30 3.2,34 0,34" fill="#000"/>
<text x="-1.5" y="590.8" font-size="9.5" fill="#000" textLength="126.4" lengthAdjust="spacingAndGlyphs" stroke="#000" stroke-width="0.3">MACD(12,26,9) 242.39 318.69</text>
<text x="-2.3" y="762.7" font-size="9.5" fill="#000" textLength="67.1" lengthAdjust="spacingAndGlyphs" stroke="#000" stroke-width="0.3">RSI(14) 57.4993</text>
<g shape-rendering="crispEdges">
<rect x="48" y="43" width="115" height="24" fill="#ffffff"/>
<rect x="0" y="43" width="48" height="24" fill="url(#gSellTop)"/>
<rect x="163" y="43" width="52" height="24" fill="url(#gSellTop)"/>
<rect x="0" y="67" width="105" height="33" fill="url(#gPrice)"/>
<rect x="107" y="67" width="108" height="33" fill="url(#gPrice)"/>
<rect x="0" y="43" width="48" height="1" fill="#b40000"/>
<rect x="47" y="43" width="1" height="24" fill="#b40000"/>
<rect x="163" y="43" width="52" height="1" fill="#b40000"/>
<rect x="163" y="43" width="1" height="24" fill="#b40000"/>
<rect x="214" y="43" width="1" height="57" fill="#a80000"/>
<rect x="48" y="67" width="57" height="1" fill="#c41010"/>
<rect x="107" y="67" width="56" height="1" fill="#c41010"/>
<rect x="104" y="67" width="1" height="33" fill="#a00000"/>
<rect x="107" y="67" width="1" height="33" fill="#b00000"/>
<rect x="0" y="99" width="105" height="1" fill="#a00000"/>
<rect x="107" y="99" width="108" height="1" fill="#a00000"/>
<rect x="0" y="66" width="44" height="1" fill="#8c0000"/>
<rect x="0" y="67" width="44" height="1" fill="#f07070"/>
<rect x="167" y="66" width="44" height="1" fill="#8c0000"/>
<rect x="167" y="67" width="44" height="1" fill="#f07070"/>
<rect x="50.5" y="43.5" width="110" height="21" fill="#fff" stroke="#a8acb4" stroke-width="1"/>
<rect x="52" y="45" width="18" height="18" fill="url(#gBtn)"/>
<rect x="141" y="45" width="18" height="18" fill="url(#gBtn)"/>
<rect x="71" y="44" width="1" height="20" fill="#b8bcc4"/>
<rect x="139" y="44" width="1" height="20" fill="#b8bcc4"/>
</g>
<polygon points="58,52 63.5,52 60.75,55.3" fill="#4a5ed0"/>
<polygon points="147,55.3 152.5,55.3 149.75,52" fill="#4a5ed0"/>
<text x="135.8" y="58" font-size="12.5" fill="#000" textLength="23.2" lengthAdjust="spacingAndGlyphs" text-anchor="end">1.00</text>
<text x="8.2" y="59" font-size="12.5" fill="#fff" textLength="25.7" lengthAdjust="spacingAndGlyphs">SELL</text>
<text x="176.5" y="59" font-size="12.5" fill="#fff" textLength="23.5" lengthAdjust="spacingAndGlyphs">BUY</text>
<text x="12.3" y="95" font-size="12.5" fill="#fff" textLength="34.3" lengthAdjust="spacingAndGlyphs" font-weight="bold">29728</text>
<text x="49.4" y="95" font-size="26" fill="#fff" font-weight="bold">.</text>
<text x="58.6" y="94.6" font-size="33" fill="#fff" textLength="15" lengthAdjust="spacingAndGlyphs">5</text>
<text x="121.8" y="95" font-size="12.5" fill="#fff" textLength="34.3" lengthAdjust="spacingAndGlyphs" font-weight="bold">29781</text>
<text x="160.6" y="94.8" font-size="26" fill="#fff" font-weight="bold">.</text>
<text x="169.4" y="94.6" font-size="33" fill="#fff" textLength="15" lengthAdjust="spacingAndGlyphs">5</text>
<circle cx="-2" cy="6" r="4.5" fill="#cfe3fa" stroke="#3a78c8" stroke-width="1.5"/>
<line x1="1.5" y1="10" x2="4.5" y2="16" stroke="#c8a020" stroke-width="2.2"/>
<path d="M12 0V17" stroke="#a0a0a0" stroke-width="1" shape-rendering="crispEdges"/>
<path d="M13 0V17" stroke="#ffffff" stroke-width="1" shape-rendering="crispEdges"/>
<path d="M22.5 -1.5H31L34.5 2V12.5H22.5Z" fill="#fafafa" stroke="#8a8a8a" stroke-width="1"/>
<path d="M24 1.8H27 M24 5.5H32 M24 7.5H29 M24 9.5H26" stroke="#8a8a8a" stroke-width="1"/>
<path d="M30.4 5.4H33.6V9.6H37.6V12.6H33.6V16.6H30.4V12.6H26.4V9.6H30.4Z" fill="#22e030" stroke="#008000" stroke-width="1"/>
<text x="40.6" y="9.8" font-size="13" fill="#000" textLength="36.6" lengthAdjust="spacingAndGlyphs" font-family='"Liberation Sans", "Noto Sans CJK SC", "WenQuanYi Zen Hei", sans-serif' stroke="#000" stroke-width="0.2">新订单</text>
<defs><linearGradient id="gBook" x1="0" y1="0" x2="1" y2="1"><stop offset="0" stop-color="#fff3a0"/><stop offset="0.45" stop-color="#f0c020"/><stop offset="1" stop-color="#d89a10"/></linearGradient><linearGradient id="gCloud" x1="0" y1="0" x2="0" y2="1"><stop offset="0" stop-color="#fafbfe"/><stop offset="1" stop-color="#b8c2d6"/></linearGradient></defs>
<path d="M95.3 0.3L103.8 6.5L104.8 9L96.8 14.6L89.3 8.8C91 7 92.8 5 93.4 3.5C93.8 2.2 94.5 1 95.3 0.3Z" fill="url(#gBook)" stroke="#9a6010" stroke-width="1"/>
<path d="M103.6 7L104.2 8.9L97.2 13.8L96.4 11.8Z" fill="#efe4b0"/>
<path d="M97 12.2L103.9 7.4 M97.4 13.3L104.2 8.6" stroke="#b08a40" stroke-width="0.6" stroke-dasharray="1 0.8"/>
<path d="M90.4 8.9L96.2 12.9" stroke="#f6e09a" stroke-width="1.7"/>
<rect x="119" y="-1" width="11" height="9.5" fill="#0a9af0"/>
<path d="M119 -1V8.5H122.4V1.2L121 -1Z" fill="#0080e0"/>
<path d="M122.7 1V8.2 M122.6 1.2L124 2.4H130" stroke="#d8f0ff" stroke-width="0.9" fill="none"/>
<path d="M124.2 4.4H128.6" stroke="#ffffff" stroke-width="1.2"/>
<path d="M118.8 14.6C116.6 14.6 116.4 10.8 119.2 10.6C119.4 8.6 121.6 8 123 8.8C123.8 6.8 127.6 6.8 128.3 9C129 7.8 132.2 8.2 132 10.5C133.6 11 133.6 14.6 131.4 14.6Z" fill="url(#gCloud)" stroke="#3b5286" stroke-width="1"/>
<circle cx="153" cy="6.5" r="7.5" fill="none" stroke="#9cb8e0" stroke-width="1"/>
<circle cx="153" cy="6.5" r="5" fill="none" stroke="#5a86cc" stroke-width="1"/>
<circle cx="153" cy="6.5" r="2.2" fill="#2a5ab8"/>
<path d="M153 6.5V14.5A7.5 7.5 0 0 0 160.5 7" fill="none" stroke="#30b030" stroke-width="1.3"/>
<path d="M172.5 3.5C174 0 186 0 187.5 3.5C186 6 174 6 172.5 3.5Z" fill="#4aa8e0" stroke="#2878b8" stroke-width="0.8"/>
<path d="M179 -1L180 3L181 -1Z" fill="#4aa8e0"/>
<path d="M173 7L187 7L180 15Z" fill="#f2d040" stroke="#c09010" stroke-width="0.8"/>
<circle cx="184.3" cy="11" r="4" fill="#d82010"/>
<rect x="182.8" y="9.5" width="3" height="3" fill="#fff"/>
<text x="193.4" y="9.8" font-size="13" fill="#000" textLength="46.8" lengthAdjust="spacingAndGlyphs" font-family='"Liberation Sans", "Noto Sans CJK SC", "WenQuanYi Zen Hei", sans-serif' stroke="#000" stroke-width="0.2">自动交易</text>
<path d="M248.5 0V17" stroke="#a0a0a0" stroke-width="1" shape-rendering="crispEdges"/>
<path d="M249.5 0V17" stroke="#ffffff" stroke-width="1" shape-rendering="crispEdges"/>
<rect x="252" y="1" width="3" height="1" fill="#b8b8b8" shape-rendering="crispEdges"/>
<rect x="252" y="3" width="3" height="1" fill="#b8b8b8" shape-rendering="crispEdges"/>
<rect x="252" y="5" width="3" height="1" fill="#b8b8b8" shape-rendering="crispEdges"/>
<rect x="252" y="7" width="3" height="1" fill="#b8b8b8" shape-rendering="crispEdges"/>
<rect x="252" y="9" width="3" height="1" fill="#b8b8b8" shape-rendering="crispEdges"/>
<rect x="252" y="11" width="3" height="1" fill="#b8b8b8" shape-rendering="crispEdges"/>
<rect x="252" y="13" width="3" height="1" fill="#b8b8b8" shape-rendering="crispEdges"/>
<rect x="252" y="15" width="3" height="1" fill="#b8b8b8" shape-rendering="crispEdges"/>
<path d="M266.5 2V15 M264.2 12.5H276.5" fill="none" stroke="#505050" stroke-width="1.3"/>
<path d="M266.5 0.6L264.6 3.2L268.4 3.2Z M275.8 10.6L278.2 12.5L275.8 14.4Z" fill="#505050" stroke="#505050" stroke-width="0.5"/>
<path d="M271.5 3V10 M271.5 3H274 M269 9.5H271.5" stroke="#20a020" stroke-width="1.2" fill="none"/>
<path d="M286.3 0V17" stroke="#a0a0a0" stroke-width="1" shape-rendering="crispEdges"/>
<path d="M287.3 0V17" stroke="#ffffff" stroke-width="1" shape-rendering="crispEdges"/>
<rect x="287" y="0" width="24" height="17" fill="#f8f8f8" shape-rendering="crispEdges"/>
<path d="M293.5 2V15 M291.2 12.5H303.5" fill="none" stroke="#505050" stroke-width="1.3"/>
<path d="M293.5 0.6L291.6 3.2L295.4 3.2Z M302.8 10.6L305.2 12.5L302.8 14.4Z" fill="#505050" stroke="#505050" stroke-width="0.5"/>
<rect x="297.5" y="1.5" width="4" height="7" fill="#30c030" stroke="#108010" stroke-width="0.8"/>
<path d="M299.5 0V11" stroke="#108010" stroke-width="0.8"/>
<path d="M322.5 2V15 M320.2 12.5H332.5" fill="none" stroke="#505050" stroke-width="1.3"/>
<path d="M322.5 0.6L320.6 3.2L324.4 3.2Z M331.8 10.6L334.2 12.5L331.8 14.4Z" fill="#505050" stroke="#505050" stroke-width="0.5"/>
<path d="M323 9C326 4 328 2 331 5L334 7" fill="none" stroke="#20a020" stroke-width="1.1"/>
<path d="M343.2 0V17" stroke="#a0a0a0" stroke-width="1" shape-rendering="crispEdges"/>
<path d="M344.2 0V17" stroke="#ffffff" stroke-width="1" shape-rendering="crispEdges"/>
<circle cx="357.5" cy="4.5" r="4.6" fill="#e4f0fc" stroke="#3a78c8" stroke-width="1.4"/>
<line x1="360.8" y1="8" x2="365.5" y2="13" stroke="#c8a020" stroke-width="2.4"/>
<path d="M355 4.5H360 M357.5 2V7" stroke="#3a78c8" stroke-width="1.4"/>
<circle cx="385.5" cy="4.5" r="4.6" fill="#e4f0fc" stroke="#3a78c8" stroke-width="1.4"/>
<line x1="388.8" y1="8" x2="393.5" y2="13" stroke="#c8a020" stroke-width="2.4"/>
<path d="M383 4.5H388" stroke="#3a78c8" stroke-width="1.4"/>
<rect x="408" y="-1" width="7.5" height="7.5" fill="#30a030"/>
<path d="M409.5 3H414" stroke="#fff" stroke-width="1"/>
<rect x="416.5" y="-1" width="7.5" height="7.5" fill="#2060d0"/>
<path d="M418 3H422.5" stroke="#fff" stroke-width="1"/>
<rect x="408" y="7" width="7.5" height="7.5" fill="#2060d0"/>
<path d="M409.5 11H414" stroke="#fff" stroke-width="1"/>
<rect x="416.5" y="7" width="7.5" height="7.5" fill="#30a030"/>
<path d="M418 11H422.5" stroke="#fff" stroke-width="1"/>
<path d="M433.3 0V17" stroke="#a0a0a0" stroke-width="1" shape-rendering="crispEdges"/>
<path d="M434.3 0V17" stroke="#ffffff" stroke-width="1" shape-rendering="crispEdges"/>
<path d="M438 0V17" stroke="#a0a0a0" stroke-width="1" shape-rendering="crispEdges"/>
<path d="M439 0V17" stroke="#ffffff" stroke-width="1" shape-rendering="crispEdges"/>
<rect x="439" y="0" width="25" height="17" fill="#f8f8f8" shape-rendering="crispEdges"/>
<path d="M445.5 2V15 M443.2 12.5H455.5" fill="none" stroke="#505050" stroke-width="1.3"/>
<path d="M445.5 0.6L443.6 3.2L447.4 3.2Z M454.8 10.6L457.2 12.5L454.8 14.4Z" fill="#505050" stroke="#505050" stroke-width="0.5"/>
<polygon points="451,3 455.5,6.5 451,10" fill="#20b020"/>
<path d="M466.5 0V17" stroke="#a0a0a0" stroke-width="1" shape-rendering="crispEdges"/>
<path d="M467.5 0V17" stroke="#ffffff" stroke-width="1" shape-rendering="crispEdges"/>
<rect x="468" y="0" width="24" height="17" fill="#f8f8f8" shape-rendering="crispEdges"/>
<path d="M473.5 2V15 M471.2 12.5H483.5" fill="none" stroke="#505050" stroke-width="1.3"/>
<path d="M473.5 0.6L471.6 3.2L475.4 3.2Z M482.8 10.6L485.2 12.5L482.8 14.4Z" fill="#505050" stroke="#505050" stroke-width="0.5"/>
<path d="M479.5 1V11" stroke="#2060c0" stroke-width="1.2"/>
<path d="M481 6H485 M481 6L483 4 M481 6L483 8" stroke="#e04010" stroke-width="1.2" fill="none"/>
<path d="M495.5 0V17" stroke="#a0a0a0" stroke-width="1" shape-rendering="crispEdges"/>
<path d="M496.5 0V17" stroke="#ffffff" stroke-width="1" shape-rendering="crispEdges"/>
<path d="M505.5 -1.5H513L516.5 2V11.5H505.5Z" fill="#fafafa" stroke="#8a8a8a" stroke-width="1"/>
<path d="M507.5 2.5H509 M507.5 8.5H509" stroke="#8a8a8a" stroke-width="1"/>
<path d="M512.4 5.4H515.6V9.6H519.6V12.6H515.6V16.6H512.4V12.6H508.4V9.6H512.4Z" fill="#22e030" stroke="#008000" stroke-width="1"/>
<polygon points="526.5,6 532.5,6 529.5,9" fill="#000"/>
<circle cx="551" cy="6.8" r="8" fill="#1f6fd6"/>
<circle cx="551" cy="6.8" r="5.6" fill="#f4f8fc"/>
<path d="M550.5 3V7.2H553.8" stroke="#333" stroke-width="1.1" fill="none"/>
<polygon points="565.5,6 571.5,6 568.5,9" fill="#000"/>
<rect x="582.5" y="-0.5" width="15" height="13.5" fill="#f8fbff" stroke="#2a60b0" stroke-width="1"/>
<rect x="583" y="0" width="14" height="2" fill="#3a78d0"/>
<path d="M584 5L587 4.5L590 5.5L593 4L596 4.5" stroke="#c04020" stroke-width="0.9" fill="none"/>
<path d="M583 7.5H597" stroke="#2a60b0" stroke-width="0.8"/>
<path d="M584 11L587 9.5L590 10.5L593 9L596 10.5" stroke="#20a020" stroke-width="0.9" fill="none"/>
<polygon points="604.5,6 610.5,6 607.5,9" fill="#000"/>
<path d="M616 0V17" stroke="#a0a0a0" stroke-width="1" shape-rendering="crispEdges"/>
<path d="M617 0V17" stroke="#ffffff" stroke-width="1" shape-rendering="crispEdges"/>
<rect x="620" y="1" width="3" height="1" fill="#b8b8b8" shape-rendering="crispEdges"/>
<rect x="620" y="3" width="3" height="1" fill="#b8b8b8" shape-rendering="crispEdges"/>
<rect x="620" y="5" width="3" height="1" fill="#b8b8b8" shape-rendering="crispEdges"/>
<rect x="620" y="7" width="3" height="1" fill="#b8b8b8" shape-rendering="crispEdges"/>
<rect x="620" y="9" width="3" height="1" fill="#b8b8b8" shape-rendering="crispEdges"/>
<rect x="620" y="11" width="3" height="1" fill="#b8b8b8" shape-rendering="crispEdges"/>
<rect x="620" y="13" width="3" height="1" fill="#b8b8b8" shape-rendering="crispEdges"/>
<rect x="620" y="15" width="3" height="1" fill="#b8b8b8" shape-rendering="crispEdges"/>
<path d="M626 0V17" stroke="#a0a0a0" stroke-width="1" shape-rendering="crispEdges"/>
<path d="M627 0V17" stroke="#ffffff" stroke-width="1" shape-rendering="crispEdges"/>
<rect x="627" y="0" width="24" height="17" fill="#f8f8f8" shape-rendering="crispEdges"/>
<path d="M634 -1V12L637 9L640 14.5L642 13.5L639 8.5H643Z" fill="#404040"/>
<path d="M659 7.5H674 M666.5 0V15" stroke="#555" stroke-width="1.1"/>
<rect x="665.5" y="6.5" width="2" height="2" fill="#f0f0f0"/>
<path d="M683.5 0V17" stroke="#a0a0a0" stroke-width="1" shape-rendering="crispEdges"/>
<path d="M684.5 0V17" stroke="#ffffff" stroke-width="1" shape-rendering="crispEdges"/>
<path d="M700.5 1.5V14" stroke="#555" stroke-width="1.2"/>
<path d="M723 7.5H735" stroke="#555" stroke-width="1.2"/>
<path d="M751 14L763.5 1.5" stroke="#555" stroke-width="1.2"/>
<path d="M777 9L788 0 M779 12L790 3 M781 14L792 5" stroke="#555" stroke-width="0.9" fill="none"/>
<path d="M779 3V13 M783 0V14 M787 -1V11" stroke="#555" stroke-width="0.7" stroke-dasharray="1 1" fill="none"/>
<text x="787.5" y="15.5" font-size="7" fill="#555" font-weight="bold" stroke="#555" stroke-width="0.3">E</text>
<path d="M805 1.5H819 M805 5.5H819 M805 9.5H819 M805 13.5H813" stroke="#555" stroke-width="1" stroke-dasharray="1 1" fill="none"/>
<text x="815" y="16" font-size="7" fill="#555" font-weight="bold" stroke="#555" stroke-width="0.3">F</text>
<text x="836.6" y="12.2" font-size="12.5" fill="#555" textLength="7.8" lengthAdjust="spacingAndGlyphs" font-weight="bold">A</text>
<rect x="863.5" y="0.5" width="11" height="13" fill="none" stroke="#555" stroke-width="1" stroke-dasharray="1 1"/>
<text x="865.5" y="12" font-size="12" fill="#555" textLength="7" lengthAdjust="spacingAndGlyphs" font-weight="bold">T</text>
<path d="M890.5 3.5L894 0.5L897.5 3.5L894 6.5Z M897 10.5L900.5 7.5L904 10.5L900.5 13.5Z" fill="#555"/>
<path d="M892 8L895 11L899 4" stroke="#555" stroke-width="1.1" fill="none"/>
<polygon points="910.5,6 916.5,6 913.5,9" fill="#000"/>
<path d="M922.5 0V17" stroke="#a0a0a0" stroke-width="1" shape-rendering="crispEdges"/>
<path d="M923.5 0V17" stroke="#ffffff" stroke-width="1" shape-rendering="crispEdges"/>
<rect x="925.5" y="1" width="3" height="1" fill="#b8b8b8" shape-rendering="crispEdges"/>
<rect x="925.5" y="3" width="3" height="1" fill="#b8b8b8" shape-rendering="crispEdges"/>
<rect x="925.5" y="5" width="3" height="1" fill="#b8b8b8" shape-rendering="crispEdges"/>
<rect x="925.5" y="7" width="3" height="1" fill="#b8b8b8" shape-rendering="crispEdges"/>
<rect x="925.5" y="9" width="3" height="1" fill="#b8b8b8" shape-rendering="crispEdges"/>
<rect x="925.5" y="11" width="3" height="1" fill="#b8b8b8" shape-rendering="crispEdges"/>
<rect x="925.5" y="13" width="3" height="1" fill="#b8b8b8" shape-rendering="crispEdges"/>
<rect x="925.5" y="15" width="3" height="1" fill="#b8b8b8" shape-rendering="crispEdges"/>
<rect x="1073" y="0" width="25" height="17" fill="#f8f8f8" shape-rendering="crispEdges"/>
<text x="937.5" y="11.3" font-size="10.2" fill="#404040" textLength="12.5" lengthAdjust="spacingAndGlyphs" stroke="#404040" stroke-width="0.3">M1</text>
<text x="965.3" y="11.3" font-size="10.2" fill="#404040" textLength="12.8" lengthAdjust="spacingAndGlyphs" stroke="#404040" stroke-width="0.3">M5</text>
<text x="991.7" y="11.3" font-size="10.2" fill="#404040" textLength="17.2" lengthAdjust="spacingAndGlyphs" stroke="#404040" stroke-width="0.3">M15</text>
<text x="1019.5" y="11.3" font-size="10.2" fill="#404040" textLength="18" lengthAdjust="spacingAndGlyphs" stroke="#404040" stroke-width="0.3">M30</text>
<text x="1050.5" y="11.3" font-size="10.2" fill="#404040" textLength="12" lengthAdjust="spacingAndGlyphs" stroke="#404040" stroke-width="0.3">H1</text>
<text x="1077.3" y="11.3" font-size="10.2" fill="#404040" textLength="12.4" lengthAdjust="spacingAndGlyphs" stroke="#404040" stroke-width="0.3">H4</text>
<text x="1106.4" y="11.3" font-size="10.2" fill="#404040" textLength="12" lengthAdjust="spacingAndGlyphs" stroke="#404040" stroke-width="0.3">D1</text>
<text x="1133.5" y="11.3" font-size="10.2" fill="#404040" textLength="14.5" lengthAdjust="spacingAndGlyphs" stroke="#404040" stroke-width="0.3">W1</text>
<text x="1160.5" y="11.3" font-size="10.2" fill="#404040" textLength="14.8" lengthAdjust="spacingAndGlyphs" stroke="#404040" stroke-width="0.3">MN</text>
<path d="M1072.5 0V17" stroke="#a0a0a0" stroke-width="1" shape-rendering="crispEdges"/>
<path d="M1073.5 0V17" stroke="#ffffff" stroke-width="1" shape-rendering="crispEdges"/>
<path d="M1183.5 0V17" stroke="#a0a0a0" stroke-width="1" shape-rendering="crispEdges"/>
<path d="M1184.5 0V17" stroke="#ffffff" stroke-width="1" shape-rendering="crispEdges"/>
<circle cx="1653.6" cy="4.4" r="3.8" fill="#f0f4ff" stroke="#2a66d0" stroke-width="1.5"/>
<line x1="1650.8" y1="7.4" x2="1646.8" y2="11.8" stroke="#2a66d0" stroke-width="2.2" stroke-linecap="round"/>
<path d="M1674 4.5C1668 4.5 1668 13 1674 13L1673.5 15.5L1676.5 13H1681C1686 13 1686 4.5 1681 4.5Z" fill="#e4e6ec" stroke="#a8a8a8" stroke-width="0.8"/>
<circle cx="1684.5" cy="5" r="8.2" fill="#dd2a10"/>
<text x="1684.5" y="9.2" font-size="12" fill="#fff" text-anchor="middle" font-weight="bold" font-family='"Liberation Serif", serif'>1</text>
</svg></body></html>
